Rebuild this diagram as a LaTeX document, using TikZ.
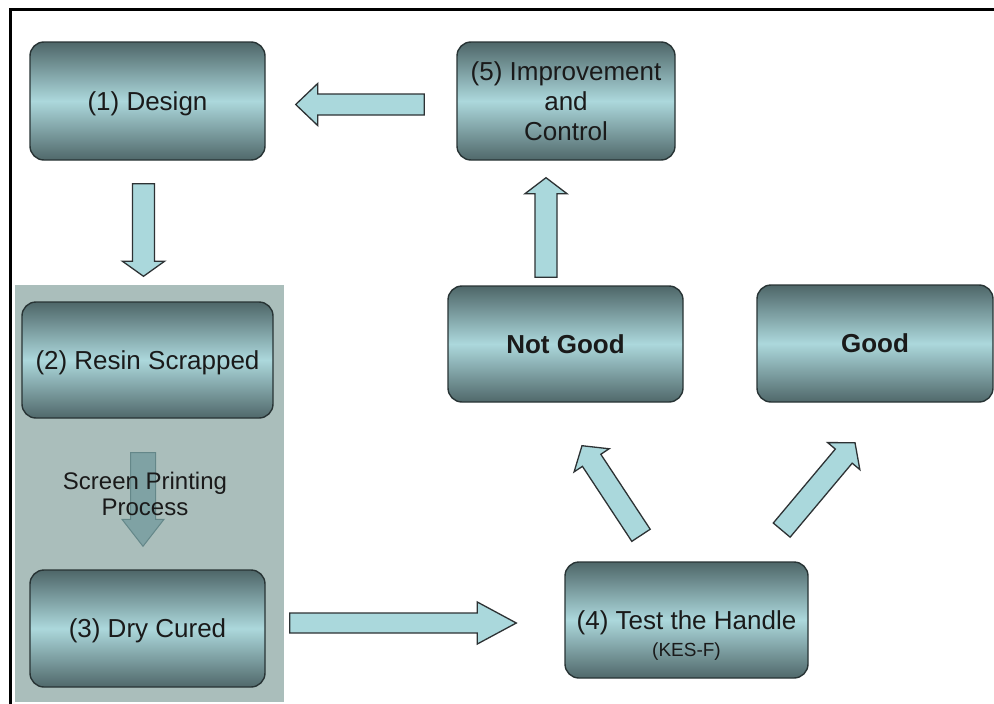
\documentclass[tikz,border=0pt]{standalone}
\usepackage{fontspec}
\setmainfont{Liberation Sans}
\usetikzlibrary{calc}

\definecolor{boxtop}{RGB}{78,102,104}
\definecolor{boxmid}{RGB}{172,216,220}
\definecolor{boxbot}{RGB}{80,104,106}
\definecolor{boxline}{RGB}{40,52,53}
\definecolor{arrowfill}{RGB}{170,216,220}
\definecolor{arrowline}{RGB}{45,50,52}
\definecolor{panelfill}{RGB}{170,190,187}
\definecolor{mutedfill}{RGB}{127,162,164}
\definecolor{mutedline}{RGB}{100,135,137}
\definecolor{ink}{RGB}{26,26,26}

\tikzset{
  stepbox/.style={rectangle, rounded corners=14pt, draw=boxline, line width=1.4pt,
    top color=boxtop, bottom color=boxbot, middle color=boxmid,
    text=ink, align=center, inner sep=0pt, text depth=0pt,
    font=\fontsize{26}{30}\selectfont},
  boldbox/.style={stepbox, font=\fontsize{26}{30}\selectfont\bfseries},
  arrowbody/.style={fill=arrowfill, draw=arrowline, line width=1.3pt, line join=miter},
  mutedarrow/.style={fill=mutedfill, draw=mutedline, line width=1pt},
  note/.style={text=ink, align=center, inner sep=0pt}
}

% Block arrow from tail #2 to tip #3; #4 head length, #5 half shaft width
\newcommand\blockarrow[5][]{%
  \coordinate (hb) at ($(#3)!#4!(#2)$);
  \draw[arrowbody,#1]
    ($(#2)!#5!90:(#3)$) -- ($(hb)!#5!90:(#3)$) -- ($(hb)!21pt!90:(#3)$) --
    (#3) --
    ($(hb)!21pt!-90:(#3)$) -- ($(hb)!#5!-90:(#3)$) -- ($(#2)!#5!-90:(#3)$) -- cycle;
}

\begin{document}
\begin{tikzpicture}[x=1pt,y=-1pt]
  \useasboundingbox (0,0) rectangle (994,704);
  \fill[white] (0,0) rectangle (994,704);

  % shaded panel behind the screen printing steps
  \fill[panelfill] (15,285) rectangle (284,702);

  % frame lines
  \draw[line width=3pt] (10.5,704) -- (10.5,9.5) -- (994,9.5);

  % process steps
  \node[stepbox, minimum width=235pt, minimum height=118pt] (design)  at (147.5,101)   {(1) Design};
  \node[stepbox, minimum width=251pt, minimum height=116pt] (resin)   at (147.5,360)   {(2) Resin Scrapped};
  \node[stepbox, minimum width=235pt, minimum height=117pt] (dry)     at (147.5,628.5) {(3) Dry Cured};
  \node[stepbox, minimum width=243pt, minimum height=116pt] (test)    at (686.5,620)   {(4) Test the Handle};
  \node[stepbox, minimum width=218pt, minimum height=118pt] (improve) at (566,101)     {(5) Improvement\\and\\Control};
  \node[boldbox, minimum width=235pt, minimum height=116pt] (notgood) at (565.5,344)   {Not Good};
  \node[boldbox, minimum width=236pt, minimum height=117pt] (good)    at (875,343.5)   {Good};
  \node[note, font=\fontsize{19}{22}\selectfont] (kes) at ($(test.center)+(0,32)$) {(KES-F)};

  % arrow end points
  \coordinate (a1s) at ($(design.south)+(-4,23)$);
  \coordinate (a1e) at ($(resin.north)+(-4,-25)$);
  \coordinate (a2s) at ($(improve.west)+(-32,3.5)$);
  \coordinate (a2e) at ($(design.east)+(30,3.5)$);
  \coordinate (a3s) at ($(notgood.north)+(-19.5,-8)$);
  \coordinate (a3e) at ($(improve.south)+(-20,17)$);
  \coordinate (a4s) at ($(resin.south)+(-4.5,34)$);
  \coordinate (a4e) at ($(dry.north)+(-4.5,-23)$);
  \coordinate (a5s) at ($(dry.east)+(24,-5.5)$);
  \coordinate (a5e) at ($(test.west)+(-48,3)$);
  \coordinate (a6s) at ($(test.north)+(-45.5,-26)$);
  \coordinate (a6e) at ($(notgood.south)+(16.5,43)$);
  \coordinate (a7s) at ($(test.north)+(95.2,-31.2)$);
  \coordinate (a7e) at ($(good.south)+(-20,40)$);

  % arrows
  \blockarrow{a1s}{a1e}{15pt}{11pt}
  \blockarrow{a2s}{a2e}{22pt}{10.5pt}
  \blockarrow{a3s}{a3e}{16pt}{11pt}
  \blockarrow[mutedarrow]{a4s}{a4e}{27pt}{12.5pt}
  \blockarrow{a5s}{a5e}{39pt}{10pt}
  \blockarrow{a6s}{a6e}{17.5pt}{11pt}
  \blockarrow{a7s}{a7e}{17.5pt}{11pt}

  % label over the screen printing arrow
  \node[note, font=\fontsize{24}{26}\selectfont] (screen) at (145,494) {Screen Printing\\Process};
\end{tikzpicture}
\end{document}
